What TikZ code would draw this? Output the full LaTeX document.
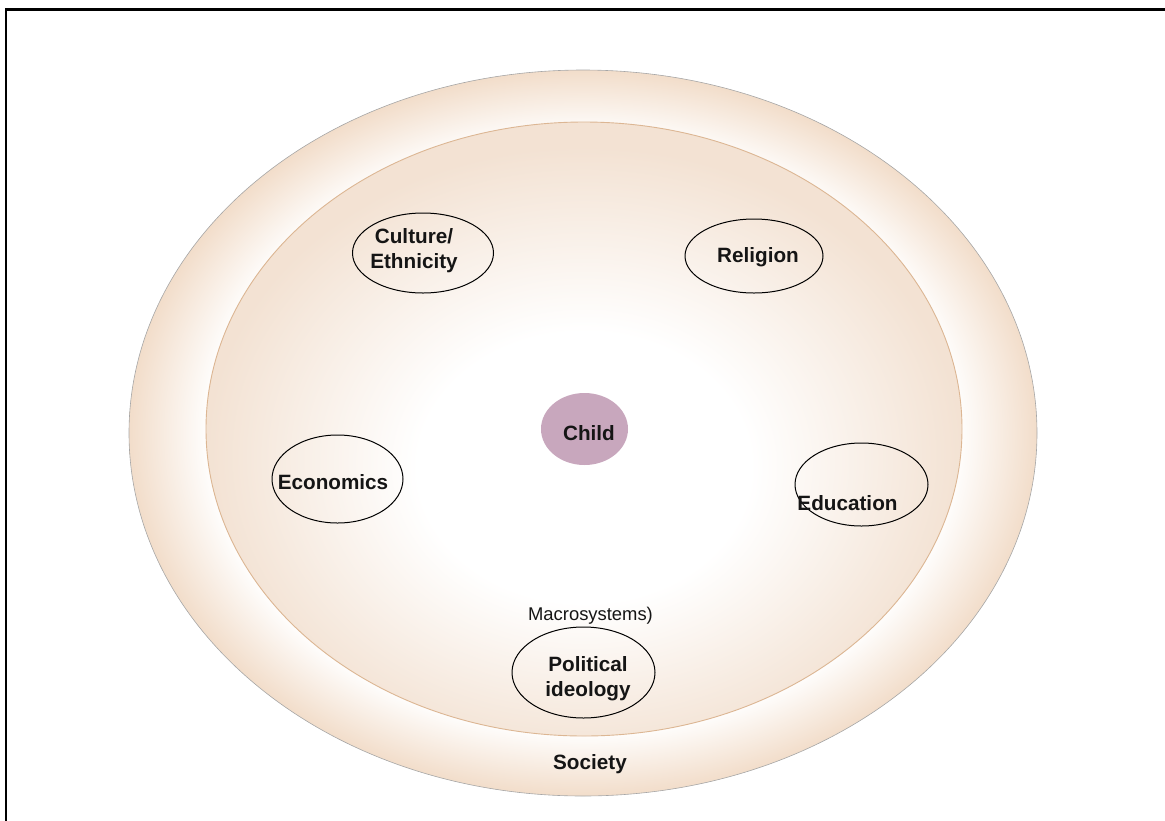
\documentclass[tikz,border=0pt]{standalone}
\usepackage{fontspec}
\setmainfont{Liberation Sans}
\usetikzlibrary{shapes.geometric}
\definecolor{peach}{HTML}{F2DDCA}
\definecolor{peachin}{HTML}{F3E2D3}
\definecolor{peachline}{HTML}{DCB693}
\definecolor{childfill}{HTML}{C8A7BD}
\definecolor{ink}{HTML}{151515}
\pgfdeclareradialshading{outerring}{\pgfpoint{0bp}{0bp}}{color(0bp)=(white); color(20.5bp)=(white); color(25bp)=(peach); color(50bp)=(peach)}
\pgfdeclareradialshading{innerdisc}{\pgfpoint{0bp}{-4bp}}{color(0bp)=(white); color(11bp)=(white); color(25bp)=(peachin); color(50bp)=(peachin)}
\begin{document}
\begin{tikzpicture}[x=1pt,y=-1pt,
  bubble/.style={ellipse, draw=black, line width=1pt, inner sep=0pt},
  lbl/.style={font=\bfseries\fontsize{20.7}{25}\selectfont, text=ink, align=center, inner sep=0pt},
  note/.style={font=\fontsize{18.4}{22}\selectfont, text=ink, inner sep=0pt}]
\useasboundingbox (0,0) rectangle (1165,820);
\begin{scope}
\clip (0,0) rectangle (1165,820);
\draw[line width=2.6pt] (5.8,9.7) rectangle (1185,845);
\end{scope}
% society ring
\node[ellipse, minimum width=908pt, minimum height=726pt, inner sep=0pt,
      shading=outerring, draw=gray!70, line width=0.6pt] (society) at (583,433) {};
% macrosystem disc
\node[ellipse, minimum width=756pt, minimum height=614pt, inner sep=0pt,
      shading=innerdisc, draw=peachline, line width=0.9pt] (macro) at (584,429) {};
% bubbles
\node[bubble, minimum width=141pt, minimum height=80pt] (culture) at (423,253) {};
\node[bubble, minimum width=138pt, minimum height=74pt] (religion) at (754,256) {};
\node[bubble, minimum width=131pt, minimum height=88pt] (economics) at (337.5,479) {};
\node[bubble, minimum width=133pt, minimum height=83pt] (education) at (861.5,484.5) {};
\node[bubble, minimum width=143pt, minimum height=91pt] (political) at (583.5,672.5) {};
\node[ellipse, fill=childfill, inner sep=0pt, minimum width=87pt, minimum height=72pt] (child) at (584.5,429) {};
% labels
\node[lbl] (tculture) at (414,251) {Culture/\\Ethnicity};
\node[lbl] (treligion) at (758,257) {Religion};
\node[lbl] (teconomics) at (333,482) {Economics};
\node[lbl] (teducation) at (847.5,503) {Education};
\node[lbl] (tpolitical) at (588,679) {Political\\ideology};
\node[lbl] (tchild) at (589,433) {Child};
\node[lbl] (tsociety) at (590,764) {Society};
\node[note] (tmacro) at (590.5,616) {Macrosystems)};
\end{tikzpicture}
\end{document}
